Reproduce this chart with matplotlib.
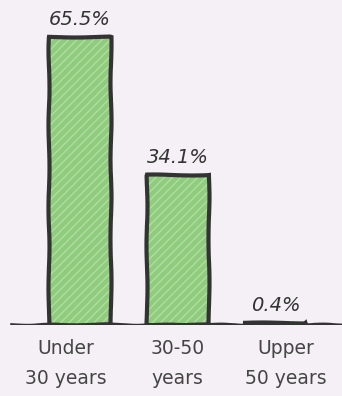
import matplotlib.pyplot as plt

groups = ["Under\n30 years", "30-50\nyears", "Upper\n50 years"]
shares = [65.5, 34.1, 0.4]
value_labels = ["65.5%", "34.1%", "0.4%"]

bg = "#f4f0f5"
ink = "#333333"

fig = plt.figure(figsize=(3.42, 3.96), dpi=100, facecolor=bg)
ax = fig.add_axes([0.0, 0.18, 1.0, 0.78])
ax.set_facecolor(bg)

pos = [0, 1, 2]
bars = ax.bar(pos, shares, width=0.63, color="#8fcc7d", edgecolor=ink,
              linewidth=3.0, hatch="////", zorder=2)
for b in bars:
    b._hatch_color = (0.85, 0.95, 0.80, 0.45)
    b.set_sketch_params(0.5, 90, 2)

# rough ground line
base = ax.axhline(0, xmin=0.035, xmax=1.0, color=ink, linewidth=2.6, zorder=3)
base.set_sketch_params(0.6, 60, 2)

for x, v, t in zip(pos, shares, value_labels):
    ax.text(x, v + 1.8, t, ha="center", va="bottom", fontsize=14,
            style="italic", family="DejaVu Sans", color=ink)

ax.set_xlim(-0.82, 2.68)
ax.set_ylim(0, 70.3)
ax.set_xticks([-0.15, 1, 2.1])
ax.set_xticklabels(groups, fontsize=13.5, color="#454545", family="DejaVu Sans",
                   linespacing=1.75)
ax.tick_params(axis="x", length=0, pad=10)
ax.set_yticks([])
for s in ax.spines.values():
    s.set_visible(False)

fig.savefig("out.png", dpi=100, facecolor=bg)
